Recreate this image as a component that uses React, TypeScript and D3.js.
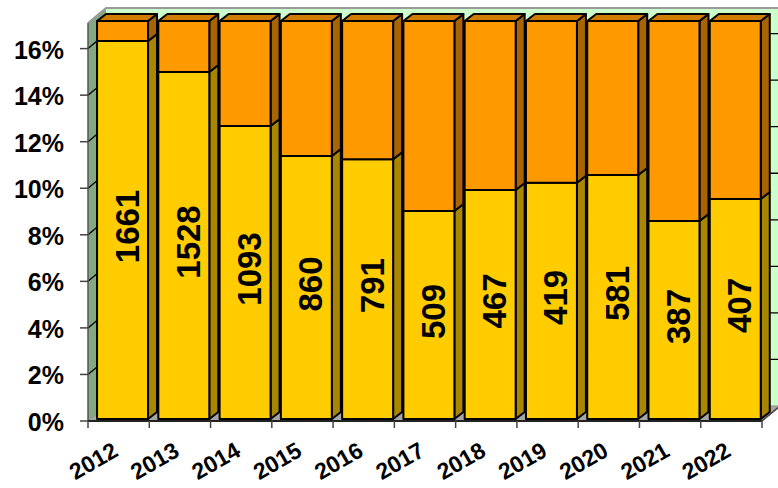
import React from "react";
import * as d3 from "d3";

// years on the category axis
const years = ["2012", "2013", "2014", "2015", "2016", "2017", "2018", "2019", "2020", "2021", "2022"];
// lower (yellow) segment, percent
const shareLow = [16.24, 14.91, 12.59, 11.3, 11.16, 8.94, 9.84, 10.15, 10.48, 8.51, 9.45];
// upper (orange) segment, percent
const shareHigh = [0.86, 2.19, 4.51, 5.8, 5.94, 8.16, 7.26, 6.95, 6.62, 8.59, 7.65];
// counts printed inside the yellow segment
const counts = [1661, 1528, 1093, 860, 791, 509, 467, 419, 581, 387, 407];
const yTicks = [0, 2, 4, 6, 8, 10, 12, 14, 16];
const yMax = 17.1;

const width = 778;
const height = 488;
const margin = { top: 23, right: 16, bottom: 67, left: 88 };
const depth = { dx: 18, dy: -15 };
const barOff = { dx: 2, dy: -2 };
const barDepth = { dx: 9, dy: -7 };

const colors = {
  low: { front: "#FFCC00", side: "#A88600", top: "#D9AD00" },
  high: { front: "#FF9900", side: "#A86400", top: "#CF7C00" },
};

const font = "Arial, 'Liberation Sans', sans-serif";

const pts = (p: number[][]) => p.map((d) => d.join(",")).join(" ");

const App = () => {
  const x = d3
    .scaleBand<string>()
    .domain(years)
    .range([margin.left, width - margin.right])
    .padding(0);
  const bw = x.bandwidth();

  const y = d3
    .scaleLinear()
    .domain([0, yMax])
    .range([height - margin.bottom, margin.top]);

  const rows = years.map((yr, i) => ({ year: yr, low: shareLow[i], high: shareHigh[i] }));
  const series = d3.stack<any>().keys(["low", "high"])(rows);

  const x0 = x.range()[0];
  const x1 = x.range()[1];
  const y0 = y(0);
  const yTop = y(yMax);

  return (
    <svg
      width={width}
      height={height}
      style={{ position: "absolute", left: 0, top: 0, background: "#fff" }}
      fontFamily={font}
    >
      {/* back wall */}
      <polygon
        points={pts([
          [x0 + depth.dx, yTop + depth.dy],
          [x1 + depth.dx + 20, yTop + depth.dy],
          [x1 + depth.dx + 20, y0 + depth.dy],
          [x0 + depth.dx, y0 + depth.dy],
        ])}
        fill="#CCFFCC"
      />
      {/* left wall */}
      <polygon
        points={pts([
          [x0, y0],
          [x0, yTop],
          [x0 + depth.dx, yTop + depth.dy],
          [x0 + depth.dx, y0 + depth.dy],
        ])}
        fill="#84A884"
      />
      {/* floor */}
      <polygon
        points={pts([
          [x0, y0],
          [x1, y0],
          [x1 + depth.dx, y0 + depth.dy],
          [x0 + depth.dx, y0 + depth.dy],
        ])}
        fill="#A6A6A6"
        stroke="#8c8c8c"
        strokeWidth={1}
      />
      {/* gridlines on walls */}
      {yTicks.slice(1).map((t) => (
        <g key={t} stroke="#000" strokeWidth={1.3}>
          <line x1={x0} y1={y(t)} x2={x0 + depth.dx} y2={y(t) + depth.dy} />
          <line x1={x0 + depth.dx} y1={y(t) + depth.dy} x2={x1 + depth.dx + 20} y2={y(t) + depth.dy} />
        </g>
      ))}
      {/* wall top edges */}
      <polyline
        points={pts([
          [x0, yTop],
          [x0 + depth.dx, yTop + depth.dy],
          [x1 + depth.dx + 20, yTop + depth.dy],
        ])}
        fill="none"
        stroke="#9a9a9a"
        strokeWidth={2}
      />
      <line x1={x0} y1={yTop} x2={x0} y2={y0} stroke="#555" strokeWidth={1.5} />
      {/* floor front edge / category axis */}
      <line x1={x0} y1={y0} x2={x1} y2={y0} stroke="#222" strokeWidth={2} />
      <line x1={x1} y1={y0} x2={x1 + depth.dx} y2={y0 + depth.dy} stroke="#444" strokeWidth={1.5} />

      {/* bars */}
      {years.map((yr, i) => {
        const bx0 = (x(yr) as number) + bw * 0.115 + barOff.dx;
        const bx1 = bx0 + bw * 0.832;
        return (
          <g key={yr} stroke="#000" strokeWidth={2} strokeLinejoin="round">
            {series.map((s) => {
              const c = colors[s.key as "low" | "high"];
              const ya = y(s[i][1]) + barOff.dy;
              const yb = y(s[i][0]) + barOff.dy;
              return (
                <g key={s.key}>
                  <polygon
                    points={pts([
                      [bx1, ya],
                      [bx1 + barDepth.dx, ya + barDepth.dy],
                      [bx1 + barDepth.dx, yb + barDepth.dy],
                      [bx1, yb],
                    ])}
                    fill={c.side}
                  />
                  <rect x={bx0} y={ya} width={bx1 - bx0} height={yb - ya} fill={c.front} />
                  {s.key === "high" && (
                    <polygon
                      points={pts([
                        [bx0, ya],
                        [bx0 + barDepth.dx, ya + barDepth.dy],
                        [bx1 + barDepth.dx, ya + barDepth.dy],
                        [bx1, ya],
                      ])}
                      fill={c.top}
                    />
                  )}
                </g>
              );
            })}
            <text
              transform={`translate(${(bx0 + bx1) / 2 + barDepth.dx / 2},${
                (y(0) + y(shareLow[i])) / 2 + barOff.dy + barDepth.dy / 2
              }) rotate(-90)`}
              textAnchor="middle"
              dominantBaseline="central"
              fontSize={33}
              fontWeight="bold"
              fill="#000"
              stroke="none"
            >
              {counts[i]}
            </text>
          </g>
        );
      })}

      {/* value axis */}
      {yTicks.map((t) => (
        <g key={t}>
          <line x1={x0 - 8} y1={y(t)} x2={x0} y2={y(t)} stroke="#444" strokeWidth={1.5} />
          <text
            x={x0 - 24}
            y={y(t) + 1}
            textAnchor="end"
            dominantBaseline="central"
            fontSize={25}
            fontWeight="bold"
          >
            {t}%
          </text>
        </g>
      ))}

      {/* category axis ticks and labels */}
      {years.map((yr) => (
        <line
          key={yr + "t"}
          x1={x(yr) as number}
          y1={y0}
          x2={x(yr) as number}
          y2={y0 + 7}
          stroke="#444"
          strokeWidth={1.5}
        />
      ))}
      <line x1={x1} y1={y0} x2={x1} y2={y0 + 7} stroke="#444" strokeWidth={1.5} />
      {years.map((yr) => (
        <text
          key={yr}
          transform={`translate(${(x(yr) as number) + bw / 2 + 1},455) rotate(-30)`}
          textAnchor="end"
          fontSize={23}
          fontWeight="bold"
        >
          {yr}
        </text>
      ))}
    </svg>
  );
};

export default App;
